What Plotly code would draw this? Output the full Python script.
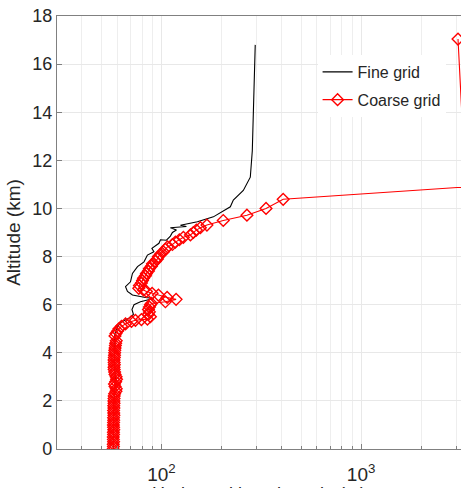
import numpy as np
import plotly.graph_objects as go

# Fine grid profile (horizontal value, altitude km)
fine_x = [57.4, 57.6, 57.5, 57.8, 57.7, 58.6, 58.8, 58.2, 57.9, 58.0, 58.0,
          58.5, 59.6, 61.7, 63.8, 69.2, 72.4, 71.2, 72.9, 78.5, 91.2, 83.2,
          71.6, 67.6, 66.1, 70.0, 71.6, 75.9, 81.8, 85.1, 91.7, 89.6, 97.2,
          98.9, 105.9, 110.9, 113.5, 118.9, 110.9, 133.4, 124.5, 151.4, 182.0,
          221.3, 229.1, 257.0, 278.6, 285.1, 288.4, 291.1, 293.0, 294.9]
fine_alt = [0.0, 0.5, 1.0, 1.5, 2.0, 2.5, 3.0, 3.5, 4.0, 4.3, 4.5,
            4.8, 5.0, 5.2, 5.3, 5.45, 5.6, 5.8, 6.0, 6.12, 6.26, 6.3,
            6.4, 6.55, 6.75, 6.95, 7.3, 7.58, 7.78, 8.06, 8.2, 8.34, 8.55,
            8.7, 8.68, 8.85, 9.0, 9.1, 9.2, 9.25, 9.3, 9.45, 9.65,
            10.07, 10.35, 10.75, 11.3, 12.4, 14.0, 15.0, 16.0, 16.8]

# Coarse grid profile
coarse_x = [57.3, 57.5, 57.4, 57.6, 57.5, 57.4, 57.6, 57.5, 57.7, 57.6,
            57.5, 57.6, 57.7, 57.6, 57.8, 57.7, 57.6, 57.8, 57.7, 57.9,
            57.8, 57.9, 58.0, 58.3, 59.2, 59.4, 58.6, 58.2, 59.0, 59.6,
            59.3, 58.6, 58.3, 58.0, 57.9, 58.1, 58.0, 57.9, 58.1, 58.2,
            58.3, 58.4, 58.6, 58.8, 59.0, 59.4,
            58.55, 59.2, 60.3, 61.3, 63.1, 66.1, 70.8, 74.1, 79.4, 85.1,
            88.1, 86.1, 87.1, 86.1, 87.1, 88.1, 89.1, 104.7, 118.4, 106.8,
            96.6, 89.8, 84.1, 81.3, 77.0,
            77.6, 79.4, 80.4, 81.3, 83.2, 84.1, 86.1, 87.1, 89.1, 90.2,
            93.3, 95.5, 96.6, 98.9, 102.3, 104.7, 107.2, 113.5, 117.5, 123.0,
            128.8, 139.7, 144.5, 149.6, 156.7,
            169.0, 204.0, 268.0, 334.0, 407.0, 6000.0, 3500.0, 3055.0]
coarse_alt = [0.0, 0.1, 0.2, 0.3, 0.4, 0.5, 0.6, 0.7, 0.8, 0.9,
              1.0, 1.1, 1.2, 1.3, 1.4, 1.5, 1.6, 1.7, 1.8, 1.9,
              2.0, 2.1, 2.2, 2.3, 2.4, 2.5, 2.6, 2.7, 2.8, 2.9,
              3.0, 3.1, 3.2, 3.3, 3.4, 3.5, 3.6, 3.7, 3.8, 3.9,
              4.0, 4.1, 4.2, 4.3, 4.4, 4.5,
              4.7, 4.8, 4.9, 5.0, 5.1, 5.2, 5.3, 5.35, 5.38, 5.4,
              5.5, 5.6, 5.7, 5.8, 5.9, 6.0, 6.05, 6.12, 6.22, 6.3,
              6.4, 6.47, 6.55, 6.61, 6.68,
              6.8, 6.9, 7.0, 7.1, 7.2, 7.3, 7.4, 7.5, 7.6, 7.7,
              7.8, 7.9, 8.0, 8.1, 8.2, 8.3, 8.4, 8.5, 8.6, 8.7,
              8.8, 8.9, 9.0, 9.1, 9.2,
              9.31, 9.5, 9.72, 10.0, 10.38, 11.04, 7.5, 17.04]

x_tick_vals = [100, 1000]
x_tick_text = ["10<sup>2</sup>", "10<sup>3</sup>"]
x_minor_vals = [40, 50, 60, 70, 80, 90, 200, 300, 400, 500, 600, 700, 800,
                900, 2000, 3000]
y_tick_vals = [0, 2, 4, 6, 8, 10, 12, 14, 16, 18]
x_title = "Horizontal length scale (m)"

FONT = "Liberation Sans, Arial, sans-serif"
TXT = "#262626"
AX = "#808080"

fig = go.Figure()
fig.add_trace(go.Scatter(
    x=fine_x, y=fine_alt, mode="lines", name="Fine grid",
    legendgroup="fine",
    line=dict(color="black", width=1.1)))
fig.add_trace(go.Scatter(
    x=coarse_x, y=coarse_alt, mode="lines+markers", name="Coarse grid",
    legendgroup="coarse",
    line=dict(color="red", width=1.1),
    marker=dict(symbol="diamond-open", size=9, color="red",
                line=dict(color="red", width=1.4))))

fig.add_annotation(text=x_title, xref="paper", yref="paper",
                   x=0.5, y=-0.077, xanchor="center", yanchor="top",
                   showarrow=False, font=dict(size=18, color=TXT, family=FONT))

fig.update_layout(
    width=461, height=488,
    margin=dict(l=57, r=0, t=16, b=39),
    paper_bgcolor="white", plot_bgcolor="white",
    font=dict(family=FONT, color=TXT, size=17),
    showlegend=True,
    legend=dict(x=0.645, y=0.91, xanchor="left", yanchor="top",
                bgcolor="white", borderwidth=0,
                font=dict(size=16, color=TXT, family=FONT),
                itemwidth=30, traceorder="grouped", tracegroupgap=4),
    xaxis=dict(type="log", range=[np.log10(30), 3.5],
               tickvals=x_tick_vals, ticktext=x_tick_text,
               showline=True, linecolor=AX, linewidth=1.2, mirror=True,
               ticks="inside", ticklen=5, tickcolor=AX,
               showgrid=True, gridcolor="#e8e8e8", gridwidth=1,
               minor=dict(tickmode="array", tickvals=x_minor_vals,
                          ticks="inside", ticklen=3, tickcolor=AX,
                          showgrid=True, gridcolor="#eeeeee"),
               tickfont=dict(size=19, color=TXT),
               ticklabelstandoff=8,
               automargin=False,
               zeroline=False),
    yaxis=dict(range=[0, 18], tickvals=y_tick_vals,
               showline=True, linecolor=AX, linewidth=1.2, mirror=False,
               ticks="inside", ticklen=5, tickcolor=AX,
               showgrid=True, gridcolor="#e8e8e8", gridwidth=1,
               tickfont=dict(size=18, color=TXT),
               automargin=False,
               title=dict(text="Altitude (km)", font=dict(size=19, color=TXT),
                          standoff=6),
               zeroline=False),
)

fig.write_html("out.html")
